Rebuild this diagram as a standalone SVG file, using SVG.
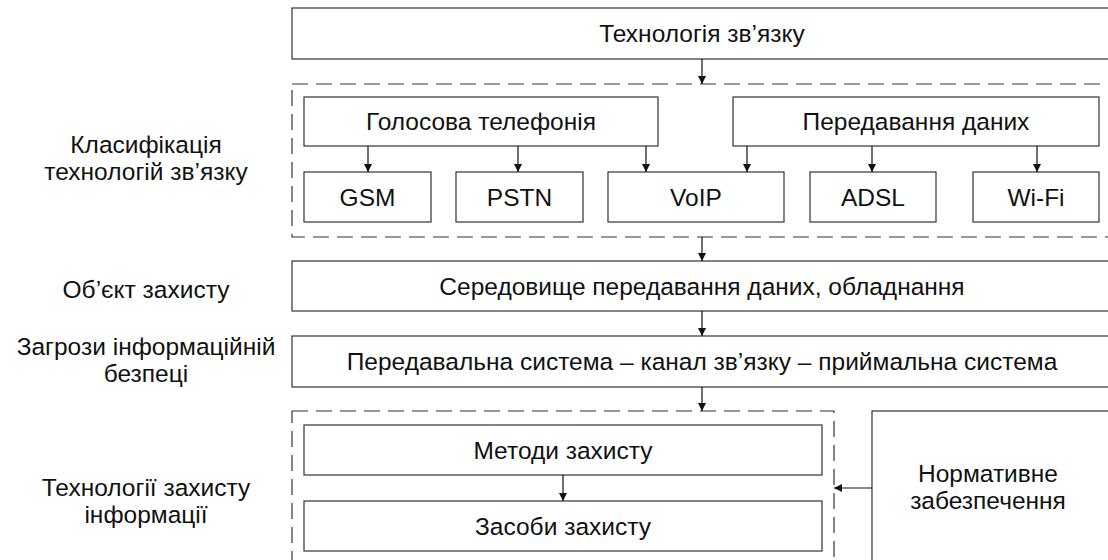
<svg xmlns="http://www.w3.org/2000/svg" width="1108" height="560" viewBox="0 0 1108 560">
<defs>
<marker id="ah" markerWidth="8" markerHeight="10" refX="8" refY="5" orient="auto" markerUnits="userSpaceOnUse">
<path d="M0,1 L8,5 L0,9 Z" fill="#111"/>
</marker>
<style>
.box{fill:#fff;stroke:#333;stroke-width:1.2}
.dash{fill:none;stroke:#333;stroke-width:1.2;stroke-dasharray:16 8}
.t{font-family:"Liberation Sans",Arial,sans-serif;font-size:24.5px;fill:#111;text-anchor:middle}
.c{fill:none;stroke:#111;stroke-width:1.2;marker-end:url(#ah)}
</style>
</defs>
<rect width="1108" height="560" fill="#fff"/>
<g id="labels">
<text class="t" x="146" y="153">Класифікація</text>
<text class="t" x="146" y="180">технологій зв’язку</text>
<text class="t" x="146" y="298">Об’єкт захисту</text>
<text class="t" x="146" y="355">Загрози інформаційній</text>
<text class="t" x="146" y="382">безпеці</text>
<text class="t" x="146" y="496">Технології захисту</text>
<text class="t" x="146" y="523">інформації</text>
</g>
<g id="group-classification"><rect class="dash" x="292" y="84" width="830" height="153"/></g>
<g id="group-protection"><rect class="dash" x="292" y="411" width="542" height="160"/></g>
<g id="tech"><rect class="box" x="292" y="8" width="830" height="51"/><text class="t" x="702" y="42">Технологія зв’язку</text></g>
<g id="voice"><rect class="box" x="304" y="97" width="354" height="49"/><text class="t" x="481" y="130">Голосова телефонія</text></g>
<g id="data"><rect class="box" x="733" y="97" width="366" height="49"/><text class="t" x="916" y="130">Передавання даних</text></g>
<g id="gsm"><rect class="box" x="304" y="172" width="127" height="50"/><text class="t" x="367.5" y="205.5">GSM</text></g>
<g id="pstn"><rect class="box" x="456" y="172" width="127" height="50"/><text class="t" x="519.5" y="205.5">PSTN</text></g>
<g id="voip"><rect class="box" x="608" y="172" width="176" height="50"/><text class="t" x="696" y="205.5">VoIP</text></g>
<g id="adsl"><rect class="box" x="810" y="172" width="126" height="50"/><text class="t" x="873" y="205.5">ADSL</text></g>
<g id="wifi"><rect class="box" x="973" y="172" width="126" height="50"/><text class="t" x="1036" y="205.5">Wi-Fi</text></g>
<g id="medium"><rect class="box" x="292" y="261" width="830" height="50"/><text class="t" x="702" y="294.5">Середовище передавання даних, обладнання</text></g>
<g id="system"><rect class="box" x="292" y="336" width="830" height="51"/><text class="t" x="702" y="370">Передавальна система – канал зв’язку – приймальна система</text></g>
<g id="methods"><rect class="box" x="304" y="425" width="518" height="50"/><text class="t" x="563" y="458.5">Методи захисту</text></g>
<g id="means"><rect class="box" x="304" y="501" width="518" height="50"/><text class="t" x="563" y="534.5">Засоби захисту</text></g>
<g id="normative"><rect class="box" x="872" y="411" width="250" height="160"/><text class="t" x="988" y="482">Нормативне</text><text class="t" x="988" y="509">забезпечення</text></g>
<g id="connectors">
<line class="c" x1="702" y1="59" x2="702" y2="84"/>
<line class="c" x1="368" y1="146" x2="368" y2="172"/>
<line class="c" x1="518" y1="146" x2="518" y2="172"/>
<line class="c" x1="646" y1="146" x2="646" y2="172"/>
<line class="c" x1="747" y1="146" x2="747" y2="172"/>
<line class="c" x1="872" y1="146" x2="872" y2="172"/>
<line class="c" x1="1037" y1="146" x2="1037" y2="172"/>
<line class="c" x1="702" y1="237" x2="702" y2="261"/>
<line class="c" x1="702" y1="311" x2="702" y2="336"/>
<line class="c" x1="702" y1="387" x2="702" y2="411"/>
<line class="c" x1="563" y1="475" x2="563" y2="501"/>
<line class="c" x1="872" y1="488" x2="834" y2="488"/>
</g>
</svg>
